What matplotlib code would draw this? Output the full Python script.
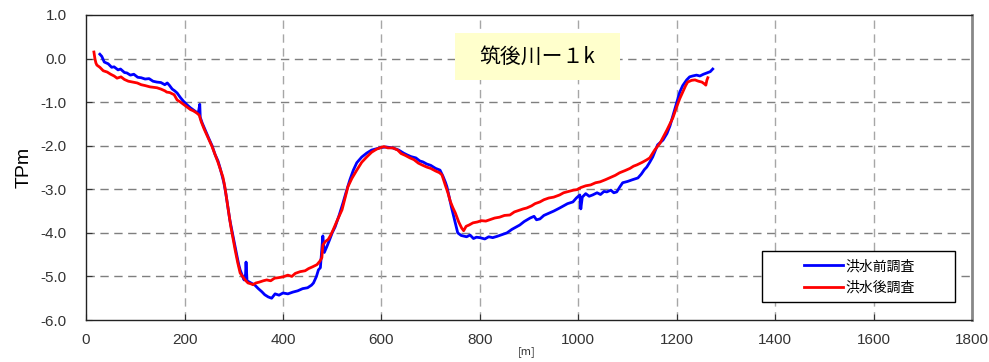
import matplotlib
matplotlib.use("Agg")
import matplotlib.pyplot as plt
from matplotlib.patches import Rectangle
import numpy as np

plt.rcParams['font.family'] = ['Noto Sans CJK JP', 'DejaVu Sans']
plt.rcParams['axes.unicode_minus'] = False

# 洪水前調査 (before flood): distance [m], elevation TPm
before_x = [28, 32, 37, 45, 52, 57, 65, 70, 78, 83, 90, 97, 105, 112, 120, 128,
            136, 144, 152, 160, 165, 169, 175, 180, 185, 192, 198, 205, 212, 218,
            223, 228, 231, 232, 236, 242, 250, 256, 262, 268, 272, 276, 280, 284,
            288, 292, 296, 300, 306, 310, 313, 318, 321, 324, 325, 327, 335, 343,
            350, 357, 363, 370, 377, 384, 392, 400, 410, 420, 430, 440, 450, 458,
            462, 468, 472, 476, 480, 481, 484, 489, 495, 500, 506, 514, 522, 530,
            536, 543, 550, 560, 570, 580, 590, 600, 610, 623, 635, 645, 652, 660,
            670, 678, 684, 692, 700, 710, 719, 725, 730, 733, 738, 742, 745, 750,
            755, 762, 773, 780, 787, 793, 800, 810, 818, 826, 835, 845, 855, 865,
            873, 881, 890, 896, 902, 910, 915, 922, 930, 940, 950, 962, 970, 978,
            989, 996, 1003, 1005, 1008, 1015, 1022, 1029, 1038, 1045, 1052, 1058,
            1066, 1072, 1078, 1084, 1090, 1100, 1110, 1121, 1128, 1134, 1139, 1145,
            1151, 1161, 1172, 1180, 1186, 1195, 1200, 1206, 1212, 1220, 1226, 1232,
            1240, 1247, 1254, 1261, 1268, 1273]
before_y = [0.10, 0.05, -0.08, -0.12, -0.20, -0.19, -0.26, -0.24, -0.32, -0.33,
            -0.38, -0.36, -0.43, -0.44, -0.47, -0.46, -0.52, -0.54, -0.55, -0.60,
            -0.56, -0.61, -0.70, -0.74, -0.79, -0.90, -0.98, -1.06, -1.13, -1.18,
            -1.22, -1.25, -1.05, -1.35, -1.48, -1.64, -1.85, -2.00, -2.20, -2.35,
            -2.50, -2.67, -2.85, -3.10, -3.40, -3.70, -3.93, -4.15, -4.50, -4.72,
            -4.85, -5.00, -5.08, -4.95, -4.67, -5.10, -5.15, -5.20, -5.28, -5.35,
            -5.42, -5.47, -5.50, -5.40, -5.43, -5.38, -5.40, -5.36, -5.33, -5.28,
            -5.26, -5.20, -5.15, -5.00, -4.85, -4.80, -4.20, -4.07, -4.45, -4.32,
            -4.15, -4.00, -3.86, -3.60, -3.31, -3.00, -2.78, -2.56, -2.39, -2.26,
            -2.17, -2.10, -2.07, -2.04, -2.03, -2.05, -2.10, -2.17, -2.21, -2.25,
            -2.28, -2.35, -2.37, -2.42, -2.45, -2.52, -2.56, -2.70, -2.84, -2.94,
            -3.20, -3.40, -3.54, -3.78, -4.00, -4.06, -4.09, -4.05, -4.13, -4.10,
            -4.11, -4.14, -4.09, -4.11, -4.08, -4.04, -4.00, -3.92, -3.87, -3.82,
            -3.74, -3.70, -3.66, -3.62, -3.70, -3.68, -3.60, -3.55, -3.50, -3.43,
            -3.38, -3.33, -3.29, -3.20, -3.13, -3.45, -3.18, -3.10, -3.16, -3.13,
            -3.08, -3.12, -3.05, -3.06, -3.02, -3.08, -3.06, -2.95, -2.85, -2.82,
            -2.78, -2.74, -2.65, -2.55, -2.49, -2.38, -2.26, -1.98, -1.87, -1.72,
            -1.55, -1.20, -1.00, -0.77, -0.62, -0.49, -0.42, -0.40, -0.38, -0.40,
            -0.36, -0.33, -0.30, -0.24]

# 洪水後調査 (after flood)
after_x = [16, 18, 20, 22, 28, 35, 43, 50, 57, 63, 71, 78, 86, 95, 104, 112, 120,
           130, 138, 144, 152, 160, 164, 170, 179, 185, 192, 198, 205, 212, 218,
           225, 230, 234, 240, 248, 256, 262, 268, 274, 278, 282, 286, 290, 294,
           298, 303, 308, 313, 318, 323, 329, 335, 339, 345, 352, 360, 367, 375,
           383, 390, 400, 410, 418, 425, 435, 445, 452, 460, 469, 475, 479, 481,
           486, 492, 497, 502, 510, 520, 526, 532, 540, 550, 560, 570, 580, 590,
           597, 605, 613, 623, 633, 640, 648, 658, 666, 675, 684, 692, 700, 710,
           718, 723, 729, 735, 740, 745, 750, 757, 763, 767, 772, 778, 786, 795,
           803, 812, 820, 830, 840, 850, 861, 870, 880, 888, 895, 905, 912, 922,
           930, 940, 950, 962, 970, 980, 990, 997, 1005, 1015, 1025, 1035, 1044,
           1055, 1065, 1075, 1084, 1095, 1105, 1112, 1119, 1130, 1138, 1145, 1155,
           1166, 1175, 1180, 1186, 1192, 1200, 1206, 1212, 1218, 1222, 1230, 1237,
           1244, 1251, 1256, 1259, 1261, 1263]
after_y = [0.15, 0.00, -0.10, -0.15, -0.20, -0.28, -0.31, -0.36, -0.40, -0.45,
           -0.42, -0.48, -0.52, -0.54, -0.56, -0.60, -0.62, -0.65, -0.66, -0.67,
           -0.70, -0.74, -0.77, -0.78, -0.83, -0.95, -1.00, -1.05, -1.11, -1.17,
           -1.20, -1.25, -1.30, -1.45, -1.62, -1.82, -2.02, -2.20, -2.38, -2.58,
           -2.72, -2.95, -3.25, -3.55, -3.85, -4.10, -4.40, -4.68, -4.92, -5.00,
           -5.08, -5.15, -5.17, -5.19, -5.15, -5.13, -5.10, -5.08, -5.10, -5.04,
           -5.03, -5.01, -4.97, -5.00, -4.93, -4.89, -4.87, -4.82, -4.78, -4.73,
           -4.65, -4.57, -4.28, -4.20, -4.15, -4.05, -3.93, -3.72, -3.47, -3.20,
           -2.94, -2.75, -2.56, -2.38, -2.26, -2.15, -2.08, -2.05, -2.02, -2.05,
           -2.05, -2.10, -2.18, -2.22, -2.28, -2.32, -2.40, -2.45, -2.49, -2.52,
           -2.58, -2.62, -2.67, -2.88, -3.08, -3.28, -3.42, -3.54, -3.75, -3.89,
           -3.95, -3.85, -3.82, -3.77, -3.75, -3.72, -3.73, -3.70, -3.66, -3.64,
           -3.60, -3.59, -3.52, -3.48, -3.45, -3.43, -3.38, -3.33, -3.29, -3.24,
           -3.20, -3.18, -3.13, -3.08, -3.05, -3.02, -3.01, -2.96, -2.92, -2.90,
           -2.85, -2.83, -2.78, -2.73, -2.68, -2.62, -2.57, -2.52, -2.47, -2.44,
           -2.38, -2.33, -2.28, -2.10, -1.94, -1.75, -1.64, -1.50, -1.36, -1.10,
           -0.92, -0.77, -0.62, -0.54, -0.50, -0.49, -0.52, -0.54, -0.58, -0.61,
           -0.50, -0.44]

labels = ['洪水前調査', '洪水後調査']
title = '筑後川ー１k'
x_ticks = np.arange(0, 1801, 200)
y_ticks = np.arange(-6.0, 1.01, 1.0)

fig = plt.figure(figsize=(9.89, 3.62), dpi=100)
ax = fig.add_axes([0.087, 0.116, 0.896, 0.8426])

ax.plot(before_x, before_y, color='#0000FF', lw=2.0, label=labels[0], zorder=3)
ax.plot(after_x, after_y, color='#FF0000', lw=2.0, label=labels[1], zorder=3)

ax.set_xlim(0, 1800)
ax.set_ylim(-6.0, 1.0)
ax.set_xticks(x_ticks)
ax.set_yticks(y_ticks)
ax.set_yticklabels(['%.1f' % v for v in y_ticks])

# dashed grid
for yv in y_ticks[1:-1]:
    ax.axhline(yv, color='#7f7f7f', lw=1.0, ls=(0, (6, 4)), zorder=1)
for xv in x_ticks[1:-1]:
    ax.axvline(xv, color='#a6a6a6', lw=1.0, ls=(0, (6, 4)), zorder=1)

ax.tick_params(direction='in', length=4, width=0.8, labelsize=11, colors='#333333')
ax.tick_params(axis='y', pad=14)
ax.tick_params(axis='x', pad=9)
for lab in ax.get_xticklabels() + ax.get_yticklabels():
    lab.set_family('Liberation Sans')
for s in ['left', 'bottom', 'top']:
    ax.spines[s].set_color('#222222')
    ax.spines[s].set_linewidth(1.0)
ax.spines['right'].set_color('#888888')
ax.spines['right'].set_linewidth(2.0)

ax.set_ylabel('TPm', fontsize=14, labelpad=6, family='Liberation Sans')
fig.text(527 / 989, 1 - 352 / 362, '[m]', fontsize=8, ha='center', va='center', color='#333333')

# title box
ax.add_patch(Rectangle((0.4165, 0.787), 0.186, 0.154, transform=ax.transAxes,
                       facecolor='#FFFFCC', edgecolor='none', zorder=4))
ax.text(0.509, 0.862, title, transform=ax.transAxes, ha='center', va='center',
        fontsize=15, zorder=5)

# legend box
ax.add_patch(Rectangle((0.763, 0.059), 0.218, 0.167, transform=ax.transAxes,
                       facecolor='white', edgecolor='black', lw=1.0, zorder=4))
leg = ax.legend(loc='center left', bbox_to_anchor=(0.81, 0.141), frameon=False,
                fontsize=10, handlelength=2.8, handletextpad=0.2, labelspacing=0.55,
                borderpad=0, borderaxespad=0)
leg.set_zorder(6)

fig.savefig('out.png', dpi=100)
